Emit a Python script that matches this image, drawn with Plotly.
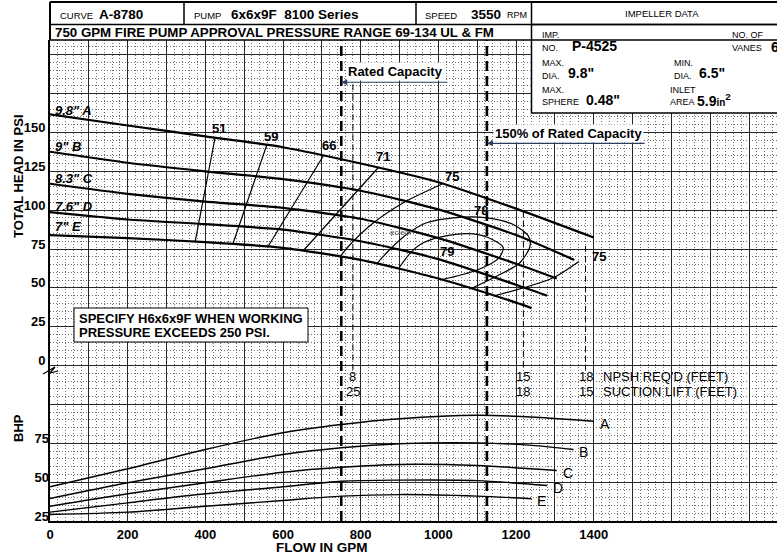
import plotly.graph_objects as go

# ---- head-capacity curves (psi) for the five impeller diameters ----
flow_a = [0, 200, 400, 600, 800, 1000, 1200, 1400]
head_a = [161.6, 154.5, 147.5, 140.5, 130, 118, 101, 82.4]
flow_b = [0, 200, 400, 600, 800, 1000, 1200, 1350]
head_b = [137.6, 130.5, 125, 120, 112.5, 100.5, 84, 68]
flow_c = [0, 200, 400, 600, 800, 1000, 1200, 1305]
head_c = [117, 110.5, 105.5, 101.5, 94.5, 82, 65.5, 56]
flow_d = [0, 200, 400, 600, 800, 1000, 1200, 1280]
head_d = [98.7, 94, 91, 87.5, 80, 68.5, 52, 45]
flow_e = [0, 200, 400, 600, 800, 1000, 1200, 1240]
head_e = [84, 82, 79.5, 75.8, 68, 56, 40.5, 37]
head_names = ['9.8" A', '9" B', '8.3" C', '7.6" D', '7" E']

# ---- brake horsepower curves ----
bhp_flow_a = [0, 200, 400, 600, 750, 900, 1100, 1250, 1400]
bhp_a = [47, 58.6, 71, 81.8, 87.1, 90.8, 93, 91.8, 89.2]
bhp_flow_b = [0, 200, 400, 600, 750, 900, 1100, 1250, 1348]
bhp_b = [39.5, 49.6, 58.6, 67.8, 72.1, 74.7, 75.3, 73.5, 71]
bhp_flow_c = [0, 200, 400, 600, 750, 900, 1100, 1305]
bhp_c = [34.5, 42.5, 49.6, 56.4, 59.6, 61.4, 60.7, 57.5]
bhp_flow_d = [0, 200, 400, 600, 750, 900, 1100, 1280]
bhp_d = [30.7, 36.7, 42.5, 47, 50.6, 51.3, 51, 47.8]
bhp_flow_e = [0, 200, 400, 600, 750, 900, 1100, 1240]
bhp_e = [29.2, 30.7, 34.5, 38.2, 41, 42, 41, 39.3]
bhp_names = ["A", "B", "C", "D", "E"]

# ---- iso-efficiency lines (%) ----
eff_51_flow = [425, 374]
eff_51_head = [146.6, 80]
eff_59_flow = [558, 471]
eff_59_head = [141.8, 78.4]
eff_66_flow = [704, 561]
eff_66_head = [135, 76.5]
eff_71_flow = [845, 652]
eff_71_head = [127.3, 73.9]
eff_75_flow = [1012, 979, 910, 833, 773, 747]
eff_75_head = [117.2, 113.3, 104.8, 91.9, 77.9, 70.2]
eff_75r_flow = [1362, 1296, 1219, 1142]
eff_75r_head = [67, 56.5, 50, 44.8]
eff_78_flow = [841, 880, 918, 970, 1039, 1125, 1193, 1232, 1236, 1210, 1150, 1082]
eff_78_head = [65.5, 76, 84.4, 91.9, 95.1, 95.1, 90.8, 83.3, 76.8, 66.2, 57.5, 49.3]
eff_79_flow = [897, 930, 961, 1020, 1090, 1140, 1167, 1155, 1100, 1010]
eff_79_head = [62.3, 73, 79, 83.5, 84.7, 81, 76, 69, 61.5, 55.3]

# ---- axis ticks / reference flows ----
flow_ticks = [0, 200, 400, 600, 800, 1000, 1200, 1400]
head_ticks = [0, 25, 50, 75, 100, 125, 150]
bhp_ticks = [25, 50, 75]
rated_flow = 750
overload_flow = 1125
npsh_flow = [780, 1219, 1379]
npsh_req = ["8", "15", "18"]
suction_lift = ["25", "18", "15"]

W, H = 777, 554
ML, MR, MT, MB = 50, 0, 40, 33
PW, PH = W - ML - MR, H - MT - MB
X_MAX = 1872
HEAD_RANGE = [-100, 209.5]
BHP_RANGE = [25, 334.5]
FONT = "Liberation Sans, Arial, sans-serif"


def fx(x):
    return (x - ML) / PW


def fy(y):
    return (H - MB - y) / PH


def page_text(x, y, text, size=13, bold=False, anchor="left", color="black"):
    return dict(x=fx(x), y=fy(y), xref="paper", yref="paper", text=text,
                showarrow=False, xanchor=anchor, yanchor="middle",
                font=dict(family=FONT, size=size, color=color,
                          weight="bold" if bold else "normal"))


def page_line(x0, y0, x1, y1, width=1.0):
    return dict(type="line", xref="paper", yref="paper",
                x0=fx(x0), y0=fy(y0), x1=fx(x1), y1=fy(y1),
                line=dict(color="black", width=width), layer="above")


fig = go.Figure()

for fl, hd in [(flow_a, head_a), (flow_b, head_b), (flow_c, head_c),
               (flow_d, head_d), (flow_e, head_e)]:
    fig.add_trace(go.Scatter(x=fl, y=hd, mode="lines",
                             line=dict(color="black", width=2.2, shape="spline", smoothing=0.6),
                             hoverinfo="skip"))

for fl, hd in [(eff_51_flow, eff_51_head), (eff_59_flow, eff_59_head),
               (eff_66_flow, eff_66_head), (eff_71_flow, eff_71_head),
               (eff_75_flow, eff_75_head), (eff_75r_flow, eff_75r_head),
               (eff_78_flow, eff_78_head), (eff_79_flow, eff_79_head)]:
    fig.add_trace(go.Scatter(x=fl, y=hd, mode="lines",
                             line=dict(color="black", width=1.2, shape="spline", smoothing=0.8),
                             hoverinfo="skip"))

for fl, bp in [(bhp_flow_a, bhp_a), (bhp_flow_b, bhp_b), (bhp_flow_c, bhp_c),
               (bhp_flow_d, bhp_d), (bhp_flow_e, bhp_e)]:
    fig.add_trace(go.Scatter(x=fl, y=bp, yaxis="y2", mode="lines",
                             line=dict(color="black", width=1.4, shape="spline", smoothing=0.8),
                             hoverinfo="skip"))

annotations = []

# curve names at left
for name, y in zip(head_names, [164.4, 140.9, 120.5, 102.2, 89.4]):
    annotations.append(dict(x=8, y=y, text=f"<i>{name}</i>", showarrow=False,
                            xanchor="left", yanchor="middle",
                            font=dict(family=FONT, size=13, weight="bold")))

# efficiency labels
for lab, x, y in [("51", 436, 152.7), ("59", 569, 147.7), ("66", 719, 141.3),
                  ("71", 857, 134.4), ("75", 1034, 121.4), ("78", 1110, 100.1),
                  ("79", 1022, 73.3), ("75", 1413, 70.5)]:
    annotations.append(dict(x=x, y=y, text=lab, showarrow=False,
                            font=dict(family=FONT, size=13, weight="bold")))
annotations.append(dict(x=903, y=85.5, text="ecleor", showarrow=False,
                        font=dict(family=FONT, size=8, color="#555")))

# BHP curve letters
for lab, fl, bp in zip(bhp_names, [bhp_flow_a, bhp_flow_b, bhp_flow_c, bhp_flow_d, bhp_flow_e],
                       [bhp_a, bhp_b, bhp_c, bhp_d, bhp_e]):
    annotations.append(dict(x=fl[-1] + 10, y=bp[-1] - 1.5, yref="y2", text=lab,
                            showarrow=False, xanchor="left",
                            font=dict(family=FONT, size=14)))

# NPSH / suction lift numbers
for fl, n1, n2 in zip(npsh_flow, npsh_req, suction_lift):
    annotations.append(dict(x=fl, y=-7.1, text=n1, showarrow=False,
                            font=dict(family=FONT, size=13)))
    annotations.append(dict(x=fl, y=-16.8, text=n2, showarrow=False,
                            font=dict(family=FONT, size=13)))
annotations.append(dict(x=1420, y=-7.1, text="NPSH REQ'D (FEET)", showarrow=False,
                        xanchor="left", font=dict(family=FONT, size=13)))
annotations.append(dict(x=1420, y=-16.8, text="SUCTION LIFT (FEET)", showarrow=False,
                        xanchor="left", font=dict(family=FONT, size=13)))

# rated capacity labels with arrows
annotations.append(dict(x=890, y=189.2, text="Rated Capacity", showarrow=False,
                        bgcolor="white", font=dict(family=FONT, size=13, weight="bold")))
annotations.append(dict(x=rated_flow, y=182.3, ax=1027, ay=182.3, axref="x", ayref="y",
                        text="", showarrow=True, arrowhead=2, arrowsize=1, arrowwidth=1.2))
annotations.append(dict(x=1334, y=149.5, text="150% of Rated Capacity", showarrow=False,
                        bgcolor="white", font=dict(family=FONT, size=13, weight="bold")))
annotations.append(dict(x=overload_flow, y=143, ax=1535, ay=143, axref="x", ayref="y",
                        text="", showarrow=True, arrowhead=2, arrowsize=1, arrowwidth=1.2))

# specify note
annotations.append(page_text(77, 318.5, "SPECIFY H6x6x9F WHEN WORKING", 13, True))
annotations.append(page_text(77, 332.5, "PRESSURE EXCEEDS 250 PSI.", 13, True))

# axis titles
annotations.append(dict(page_text(18, 176, "TOTAL HEAD IN PSI", 13, True, "center"), textangle=-90))
annotations.append(dict(page_text(18, 428, "BHP", 13, True, "center"), textangle=-90))
annotations.append(page_text(322, 547, "FLOW IN GPM", 13.5, True, "center"))

# header
annotations += [
    page_text(58, 15, "CURVE", 9.5),
    page_text(97, 14, "A-8780", 13.5, True),
    page_text(192, 15, "PUMP", 9.5),
    page_text(229, 14, "6x6x9F&nbsp; 8100 Series", 13.5, True),
    page_text(423, 15, "SPEED", 9.5),
    page_text(469, 14, "3550", 13.5, True),
    page_text(505, 15, "RPM", 9),
    page_text(662, 13.5, "IMPELLER DATA", 9.5, False, "center"),
    page_text(53, 32, "750 GPM FIRE PUMP APPROVAL PRESSURE RANGE 69-134 UL &amp; FM", 13.3, True),
    page_text(540, 35, "IMP.", 9), page_text(540, 48, "NO.", 9),
    page_text(570, 46.5, "P-4525", 14, True),
    page_text(730, 35, "NO. OF", 9), page_text(730, 48, "VANES", 9),
    page_text(769, 47, "6", 14, True),
    page_text(540, 63, "MAX.", 9), page_text(540, 76, "DIA.", 9),
    page_text(566, 73, '9.8"', 14, True),
    page_text(672, 63, "MIN.", 9), page_text(672, 76, "DIA.", 9),
    page_text(697, 73, '6.5"', 14, True),
    page_text(540, 90, "MAX.", 9), page_text(540, 102, "SPHERE", 9),
    page_text(584, 100, '0.48"', 14, True),
    page_text(668, 90, "INLET", 9), page_text(668, 102, "AREA", 9),
    page_text(695, 100, "5.9<span style='font-size:10px'>in</span><sup>2</sup>", 14, True),
]

shapes = [
    # rated / overload dashed verticals
    dict(type="line", xref="x", yref="paper", x0=rated_flow, x1=rated_flow, y0=0, y1=1,
         line=dict(color="black", width=2.6, dash="10px,5px"), layer="above"),
    dict(type="line", xref="x", yref="paper", x0=overload_flow, x1=overload_flow, y0=0, y1=1,
         line=dict(color="black", width=2.6, dash="10px,5px"), layer="above"),
    # npsh dashed verticals
    dict(type="line", xref="x", yref="y", x0=npsh_flow[0], x1=npsh_flow[0], y0=181, y1=-2.8,
         line=dict(color="black", width=1, dash="6px,4px")),
    dict(type="line", xref="x", yref="y", x0=npsh_flow[1], x1=npsh_flow[1], y0=99.5, y1=-2.8,
         line=dict(color="black", width=1, dash="6px,4px")),
    dict(type="line", xref="x", yref="y", x0=npsh_flow[2], x1=npsh_flow[2], y0=77, y1=-2.8,
         line=dict(color="black", width=1, dash="6px,4px")),
    # specify box
    dict(type="rect", xref="paper", yref="paper", x0=fx(74), x1=fx(308), y0=fy(308), y1=fy(342),
         fillcolor="white", line=dict(color="black", width=1), layer="above"),
    # impeller data box
    dict(type="rect", xref="paper", yref="paper", x0=fx(531.5), x1=fx(790), y0=fy(24.5), y1=fy(113),
         fillcolor="white", line=dict(color="black", width=1.5), layer="above"),
    # axis break mark
    dict(type="path", xref="paper", yref="paper",
         path=f"M {fx(43)},{fy(374)} L {fx(55)},{fy(367)} L {fx(50)},{fy(373)} L {fx(58)},{fy(371)}",
         line=dict(color="black", width=1.2), layer="above"),
    page_line(50, 2, 777, 2, 2),
    page_line(50, 24.5, 777, 24.5, 1.5),
    page_line(50, 2, 50, 40, 2),
    page_line(184, 2, 184, 24.5, 1.5),
    page_line(416, 2, 416, 24.5, 1.5),
    page_line(531.5, 2, 531.5, 24.5, 1.5),
    page_line(50, 40, 777, 40, 1.5),
]

grid_major = "#262626"
grid_minor = dict(showgrid=True, gridcolor="#6e6e6e", griddash="1px,2px", gridwidth=1)

fig.update_layout(
    width=W, height=H,
    margin=dict(l=ML, r=MR, t=MT, b=MB),
    plot_bgcolor="white", paper_bgcolor="white",
    showlegend=False,
    font=dict(family=FONT, color="black"),
    xaxis=dict(
        range=[0, X_MAX],
        tickmode="array",
        tickvals=list(range(0, X_MAX, 100)),
        ticktext=[str(v) if v in flow_ticks else "" for v in range(0, X_MAX, 100)],
        tickfont=dict(size=13, weight="bold"),
        showgrid=True, gridcolor=grid_major, gridwidth=1,
        minor=dict(tick0=0, dtick=20, **grid_minor),
        showline=True, linecolor="black", linewidth=2,
        zeroline=False, ticks="",
    ),
    yaxis=dict(
        range=HEAD_RANGE,
        tickmode="array",
        tickvals=list(range(-100, 201, 25)),
        ticktext=[str(v) if v in head_ticks else "" for v in range(-100, 201, 25)],
        tickfont=dict(size=13, weight="bold"),
        ticklabelshift=-5,
        showgrid=True, gridcolor=grid_major, gridwidth=1,
        minor=dict(tick0=0, dtick=5, **grid_minor),
        showline=True, linecolor="black", linewidth=2,
        zeroline=False, ticks="",
    ),
    yaxis2=dict(
        range=BHP_RANGE, overlaying="y", side="left", anchor="x",
        tickmode="array", tickvals=bhp_ticks,
        tickfont=dict(size=13, weight="bold"),
        ticklabelshift=-5,
        showgrid=False, zeroline=False, showline=False, ticks="",
    ),
    annotations=annotations,
    shapes=shapes,
)

# the page body has a default 8px margin; drop it so the figure sits at the corner
fig.write_html("out.html", config={"displayModeBar": False},
               post_script="document.body.style.margin='0';")
